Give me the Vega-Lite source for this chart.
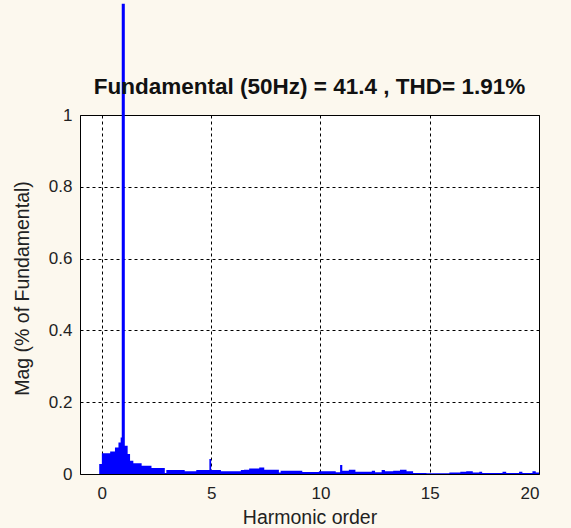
{
  "$schema": "https://vega.github.io/schema/vega-lite/v6.json",
  "autosize": {"type": "none"},
  "width": 459,
  "height": 359,
  "padding": {"left": 80, "top": 115, "right": 32, "bottom": 54},
  "background": "#FCF8EE",
  "title": {
    "text": "Fundamental (50Hz) = 41.4 , THD= 1.91%",
    "font": "Liberation Sans",
    "fontSize": 22.5,
    "fontWeight": "bold",
    "color": "#111111",
    "anchor": "middle",
    "frame": "group",
    "offset": -95
  },
  "config": {
    "view": {"fill": "white", "stroke": "black", "strokeWidth": 1},
    "axis": {
      "grid": true,
      "gridColor": "black",
      "gridDash": [3, 3],
      "gridOpacity": 1,
      "gridWidth": 1,
      "domain": false,
      "ticks": false,
      "labelFont": "Liberation Sans",
      "labelFontSize": 17,
      "labelColor": "#222222",
      "titleFont": "Liberation Sans",
      "titleFontSize": 19.5,
      "titleFontWeight": "normal",
      "titleColor": "#222222"
    }
  },
  "data": {
    "values": [
      {"h": -0.12, "m": 0.028},
      {"h": 0, "m": 0.058},
      {"h": 0.38, "m": 0.063},
      {"h": 0.6, "m": 0.074},
      {"h": 0.76, "m": 0.088},
      {"h": 0.86, "m": 0.102},
      {"h": 0.91, "m": 1.31},
      {"h": 1.05, "m": 0.079},
      {"h": 1.18, "m": 0.056},
      {"h": 1.29, "m": 0.037},
      {"h": 1.44, "m": 0.03},
      {"h": 1.82, "m": 0.023},
      {"h": 2.27, "m": 0.017},
      {"h": 2.88, "m": 0.003},
      {"h": 2.95, "m": 0.011},
      {"h": 3.79, "m": 0.0075},
      {"h": 4.32, "m": 0.011},
      {"h": 4.92, "m": 0.042},
      {"h": 5.0, "m": 0.011},
      {"h": 5.45, "m": 0.0075},
      {"h": 6.36, "m": 0.011},
      {"h": 6.5, "m": 0.012},
      {"h": 6.74, "m": 0.015},
      {"h": 7.2, "m": 0.018},
      {"h": 7.43, "m": 0.012},
      {"h": 8.1, "m": 0.004},
      {"h": 8.18, "m": 0.009},
      {"h": 9.17, "m": 0.0056},
      {"h": 9.93, "m": 0.008},
      {"h": 10.7, "m": 0.005},
      {"h": 10.9, "m": 0.025},
      {"h": 11.0, "m": 0.009},
      {"h": 11.3, "m": 0.012},
      {"h": 11.6, "m": 0.0065},
      {"h": 12.35, "m": 0.009},
      {"h": 12.5, "m": 0.005},
      {"h": 12.8, "m": 0.011},
      {"h": 12.95, "m": 0.0075},
      {"h": 13.33, "m": 0.009},
      {"h": 13.64, "m": 0.012},
      {"h": 13.94, "m": 0.0075},
      {"h": 14.24, "m": 0.003},
      {"h": 14.85, "m": 0.002},
      {"h": 15.9, "m": 0.004},
      {"h": 16.4, "m": 0.006},
      {"h": 16.67, "m": 0.0075},
      {"h": 16.97, "m": 0.004},
      {"h": 17.27, "m": 0.006},
      {"h": 17.4, "m": 0.003},
      {"h": 18.33, "m": 0.006},
      {"h": 18.5, "m": 0.003},
      {"h": 19.09, "m": 0.006},
      {"h": 19.24, "m": 0.003},
      {"h": 19.7, "m": 0.0075},
      {"h": 19.85, "m": 0.004},
      {"h": 20, "m": 0.004}
    ]
  },
  "mark": {"type": "area", "interpolate": "step-after", "color": "#0000FF", "clip": false},
  "encoding": {
    "x": {
      "field": "h",
      "type": "quantitative",
      "scale": {"domain": [-1, 20], "nice": false, "zero": false},
      "axis": {"values": [0, 5, 10, 15, 20], "title": "Harmonic order", "labelPadding": 11, "titlePadding": 7}
    },
    "y": {
      "field": "m",
      "type": "quantitative",
      "scale": {"domain": [0, 1], "nice": false, "clamp": false},
      "axis": {"values": [0, 0.2, 0.4, 0.6, 0.8, 1], "format": "~g", "title": "Mag (% of Fundamental)", "labelPadding": 8, "titlePadding": 16, "titleY": 173}
    }
  }
}
